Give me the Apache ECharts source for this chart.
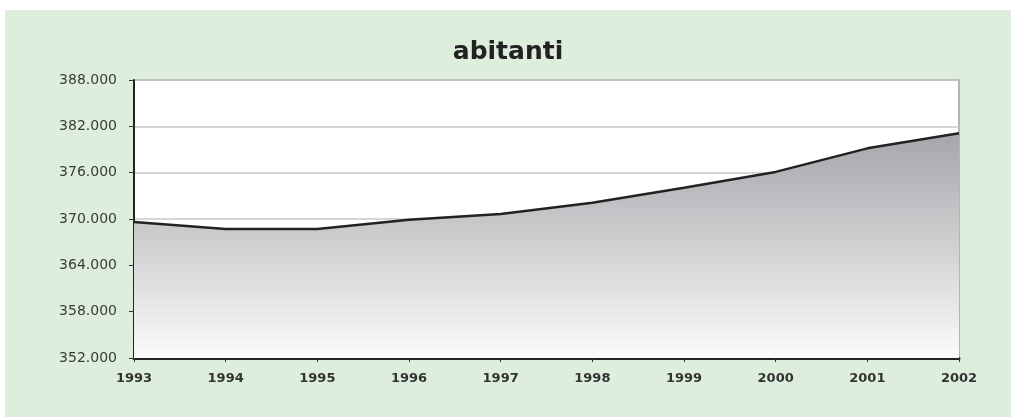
<!DOCTYPE html>
<html>
<head>
<meta charset="utf-8">
<title>abitanti</title>
<script src="https://cdn.jsdelivr.net/npm/echarts@6/dist/echarts.min.js"></script>
<style>
    html, body { margin: 0; padding: 0; background: #ffffff; }
    #chart {
        position: absolute;
        left: 5px;
        top: 10px;
        width: 1006px;
        height: 407px;
        background: #deeedc;
    }
</style>
</head>
<body>
<div id="chart"></div>
<script>
    // anni e numero di abitanti
    var anni = ['1993', '1994', '1995', '1996', '1997', '1998', '1999', '2000', '2001', '2002'];
    var abitanti = [369600, 368700, 368700, 369900, 370650, 372100, 374050, 376100, 379150, 381100];
    var yMin = 352000, yMax = 388000, yStep = 6000;

    function formatIt(v) {
        // 388000 -> 388.000
        return String(v).replace(/\B(?=(\d{3})+(?!\d))/g, '.');
    }

    var chart = echarts.init(document.getElementById('chart'));
    chart.setOption({
        backgroundColor: 'transparent',
        animation: false,
        title: {
            text: 'abitanti',
            left: 'center',
            top: 25,
            textStyle: {
                fontFamily: 'DejaVu Sans',
                fontWeight: 'bold',
                fontSize: 25,
                color: '#222'
            }
        },
        grid: {
            left: 129,
            top: 70,
            right: 52,
            bottom: 59,
            show: true,
            backgroundColor: '#ffffff',
            borderColor: '#b4b4b4',
            borderWidth: 2
        },
        xAxis: {
            type: 'category',
            data: anni,
            boundaryGap: false,
            axisLine: { lineStyle: { color: '#222', width: 3 } },
            axisTick: { show: true, length: 4, lineStyle: { color: '#333' } },
            axisLabel: {
                margin: 14,
                fontFamily: 'DejaVu Sans',
                fontWeight: 'bold',
                fontSize: 13,
                color: '#333'
            },
            splitLine: { show: false }
        },
        yAxis: {
            type: 'value',
            min: yMin,
            max: yMax,
            interval: yStep,
            axisLine: { show: true, lineStyle: { color: '#222', width: 2 } },
            axisTick: { show: true, length: 5, lineStyle: { color: '#333' } },
            axisLabel: {
                margin: 17,
                fontFamily: 'DejaVu Sans',
                fontSize: 14,
                color: '#3a3a3a',
                padding: [0, 0, 5, 0],
                formatter: formatIt
            },
            splitLine: { lineStyle: { color: '#c8c8c8', width: 1.5 } }
        },
        series: [{
            type: 'line',
            data: abitanti,
            symbol: 'none',
            lineStyle: { color: '#222', width: 2.5 },
            areaStyle: {
                origin: 'start',
                opacity: 1,
                color: new echarts.graphic.LinearGradient(0, 0, 0, 1, [
                    { offset: 0, color: '#a5a6aa' },
                    { offset: 1, color: '#fbfbfb' }
                ])
            }
        }]
    });
</script>
</body>
</html>
